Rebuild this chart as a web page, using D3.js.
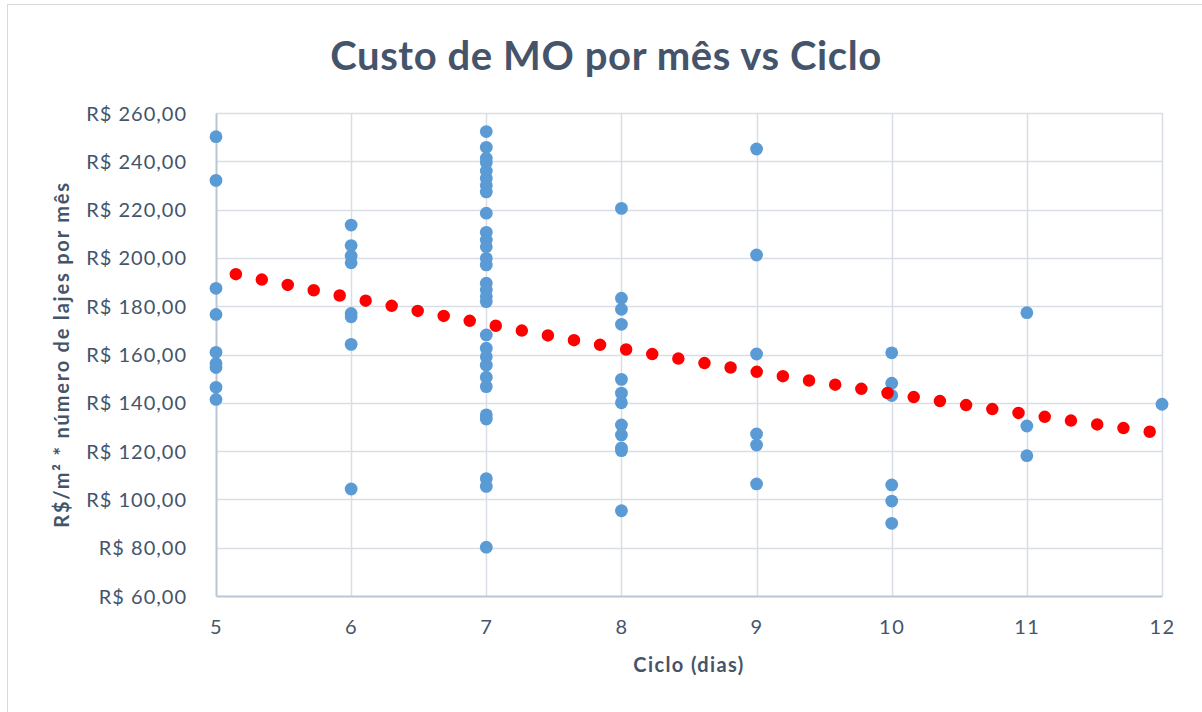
<!DOCTYPE html>
<html>
<head>
<meta charset="utf-8">
<script src="https://cdn.jsdelivr.net/npm/d3@7"></script>
<style>
  html, body { margin: 0; padding: 0; background: #fff; }
  svg { display: block; }
  text { font-family: Lato, "Open Sans", sans-serif; }
</style>
</head>
<body>
<svg id="chart" width="1202" height="712"></svg>
<script>
// Ciclo (dias) for each observation
const ciclo = [
  5, 5, 5, 5, 5, 5, 5, 5, 5,
  6, 6, 6, 6, 6, 6, 6, 6,
  7, 7, 7, 7, 7, 7, 7, 7, 7, 7, 7, 7, 7, 7, 7, 7, 7, 7, 7, 7, 7, 7, 7, 7, 7, 7, 7, 7, 7,
  8, 8, 8, 8, 8, 8, 8, 8, 8, 8, 8, 8,
  9, 9, 9, 9, 9, 9,
  10, 10, 10, 10, 10, 10,
  11, 11, 11,
  12
];
// Custo de MO por mês (R$/m² * número de lajes) for each observation
const custo = [
  250.2, 232.1, 187.4, 176.6, 160.9, 156.3, 154.6, 146.4, 141.4,
  213.6, 205.1, 200.8, 198.0, 177.0, 175.6, 164.2, 104.3,
  252.3, 245.8, 241.3, 239.5, 236.0, 233.0, 230.0, 227.3, 218.5, 210.6, 207.4, 204.6, 199.8, 197.1,
  189.5, 186.7, 184.0, 181.9, 168.1, 162.6, 159.1, 155.6, 150.6, 146.7, 135.0, 133.3, 108.6, 105.4, 80.2,
  220.5, 183.3, 178.7, 172.5, 149.7, 144.0, 140.0, 130.8, 126.7, 121.3, 120.2, 95.3,
  245.1, 201.2, 160.2, 127.1, 122.5, 106.4,
  160.7, 148.1, 143.0, 106.0, 99.3, 90.1,
  177.3, 130.4, 118.1,
  139.4
];
// Exponential trendline y = A * e^(B * x)
const trendA = 264.5;
const trendB = -0.06095;
const trendDomain = [5, 12];

// Axis ticks
const xTicks = [5, 6, 7, 8, 9, 10, 11, 12];
const yTicks = [60, 80, 100, 120, 140, 160, 180, 200, 220, 240, 260];

const titleText = "Custo de MO por mês vs Ciclo";
const xTitle = "Ciclo (dias)";
const yTitle = "R$/m² * número de lajes por mês";

const svg = d3.select("#chart");
const W = 1202, H = 712;
const m = { left: 216, right: 1162, top: 113, bottom: 596 };

const x = d3.scaleLinear().domain([5, 12]).range([m.left, m.right]);
const y = d3.scaleLinear().domain([60, 260]).range([m.bottom, m.top]);

const textCol = "#44546a";
const gridCol = "#d9dee6";

// chart area border
svg.append("rect")
  .attr("x", 7.5).attr("y", 4.5)
  .attr("width", W + 20).attr("height", H + 20)
  .attr("fill", "#fff").attr("stroke", "#d9d9d9").attr("stroke-width", 1);

// title
svg.append("text")
  .attr("x", 606).attr("y", 70)
  .attr("text-anchor", "middle")
  .attr("font-size", 40).attr("font-weight", 700)
  .attr("letter-spacing", 0.6)
  .attr("fill", textCol)
  .text(titleText);

// gridlines
const grid = svg.append("g");
grid.selectAll("line.h").data(yTicks.slice(1)).join("line")
  .attr("x1", m.left).attr("x2", m.right)
  .attr("y1", d => Math.round(y(d)) + 0.5).attr("y2", d => Math.round(y(d)) + 0.5)
  .attr("stroke", gridCol).attr("stroke-width", 1.5);
grid.selectAll("line.v").data(xTicks.slice(1)).join("line")
  .attr("y1", m.top).attr("y2", m.bottom)
  .attr("x1", d => Math.round(x(d)) + 0.5).attr("x2", d => Math.round(x(d)) + 0.5)
  .attr("stroke", gridCol).attr("stroke-width", 1.5);

// axes
const xAxis = svg.append("g")
  .attr("transform", `translate(0,${m.bottom})`)
  .call(d3.axisBottom(x).tickValues(xTicks).tickSize(0).tickPadding(24).tickFormat(d3.format("d")));
xAxis.select(".domain").attr("stroke", "#bcc5d3").attr("stroke-width", 2);
xAxis.selectAll("text").attr("font-size", 20).attr("fill", textCol).attr("font-family", "Lato, sans-serif")
  .attr("letter-spacing", 1.5);

const fmtBR = d => "R$ " + d3.format(".2f")(d).replace(".", ",");
const yAxis = svg.append("g")
  .attr("transform", `translate(${m.left},0)`)
  .call(d3.axisLeft(y).tickValues(yTicks).tickSize(0).tickPadding(29).tickFormat(fmtBR));
yAxis.select(".domain").attr("stroke", "#bcc5d3").attr("stroke-width", 2);
yAxis.selectAll("text").attr("font-size", 20).attr("fill", textCol).attr("font-family", "Lato, sans-serif")
  .attr("letter-spacing", 1).attr("dy", "0.35em");

// axis titles
svg.append("text")
  .attr("x", (m.left + m.right) / 2).attr("y", 672)
  .attr("text-anchor", "middle")
  .attr("font-size", 20).attr("font-weight", 700).attr("fill", textCol)
  .attr("letter-spacing", 1.4)
  .text(xTitle);
svg.append("text")
  .attr("transform", `translate(69,${(m.top + m.bottom) / 2}) rotate(-90)`)
  .attr("text-anchor", "middle")
  .attr("font-size", 20).attr("font-weight", 700).attr("fill", textCol)
  .attr("letter-spacing", 1.8)
  .text(yTitle);

// scatter points
const pts = ciclo.map((c, i) => ({ c, v: custo[i] }));
svg.append("g").selectAll("circle").data(pts).join("circle")
  .attr("cx", d => x(d.c)).attr("cy", d => y(d.v))
  .attr("r", 6.4)
  .attr("fill", "#5b9bd5");

// exponential trendline drawn as round dots
const trendX = d3.range(trendDomain[0], trendDomain[1] + 0.0001, 0.05);
const trendLine = d3.line()
  .x(t => x(t))
  .y(t => y(trendA * Math.exp(trendB * t)));

svg.append("path")
  .datum(trendX)
  .attr("d", trendLine)
  .attr("fill", "none")
  .attr("stroke", "#ff0000")
  .attr("stroke-width", 12.5)
  .attr("stroke-linecap", "round")
  .attr("stroke-dasharray", "0 26.5")
  .attr("stroke-dashoffset", 6.2);
</script>
</body>
</html>
